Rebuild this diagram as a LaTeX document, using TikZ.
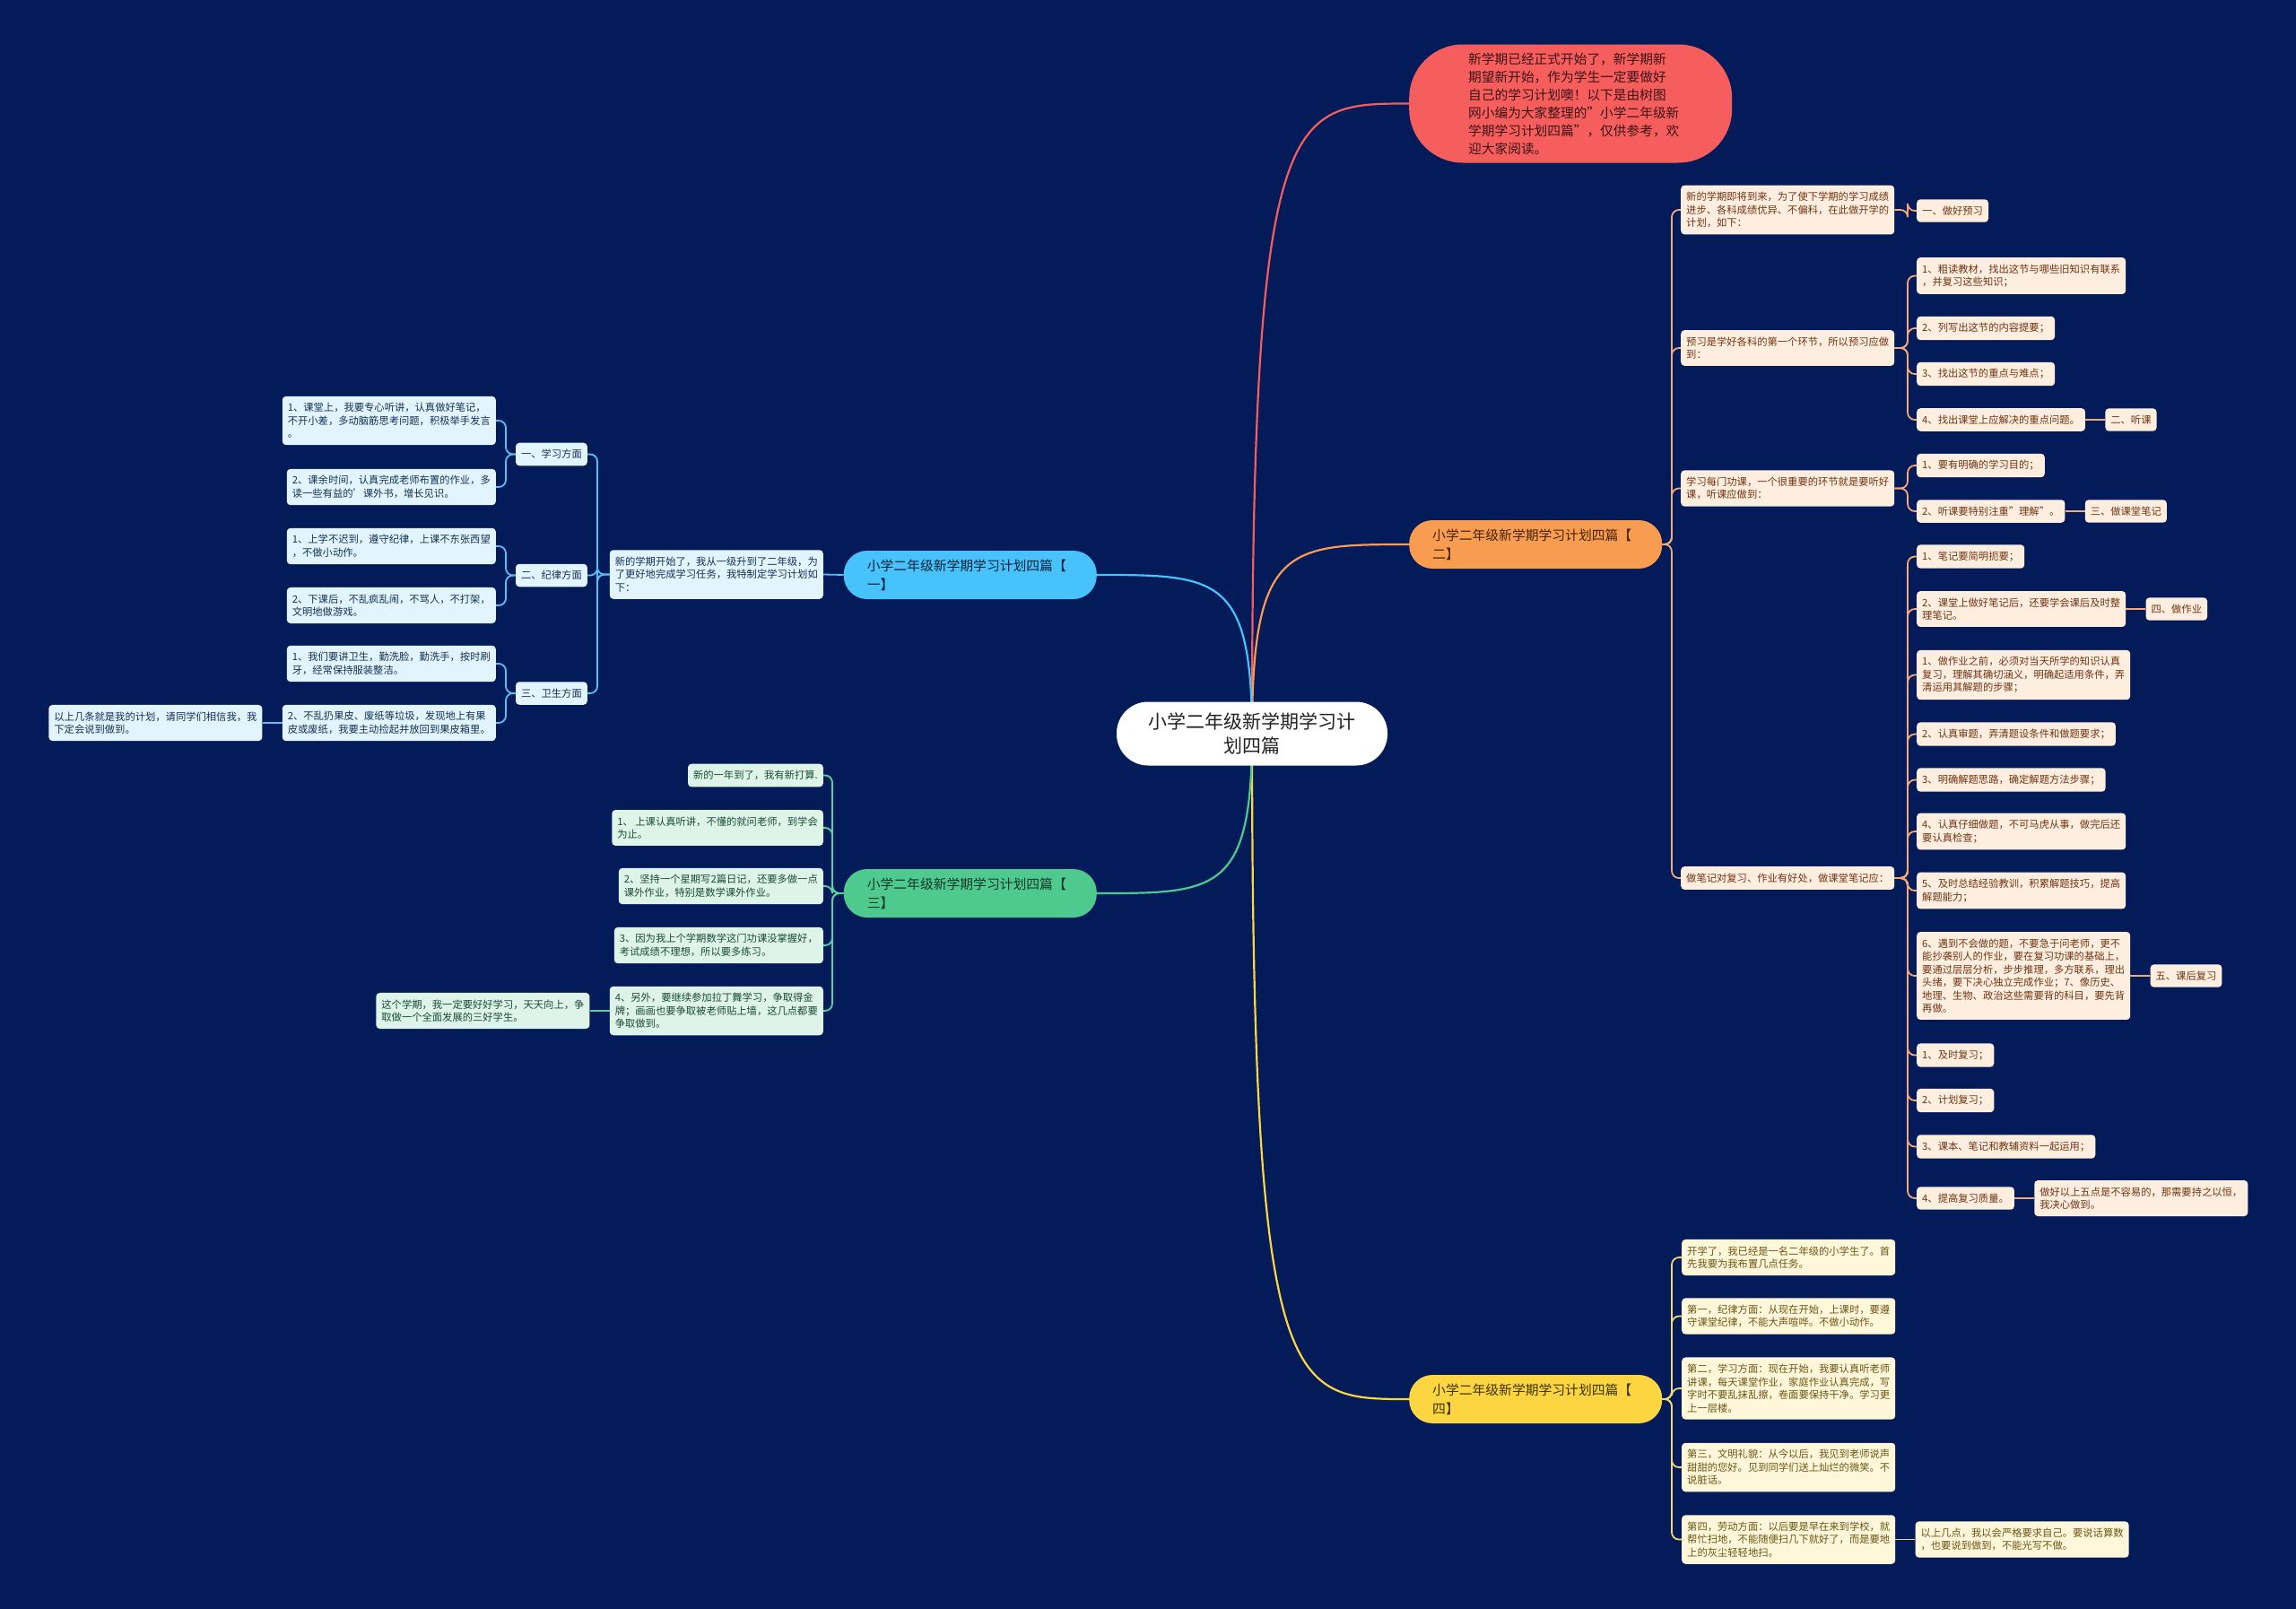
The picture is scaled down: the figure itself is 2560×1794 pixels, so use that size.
\documentclass[tikz,border=0pt]{standalone}
\usepackage{fontspec}
\setmainfont{Noto Sans CJK SC}
\usetikzlibrary{calc}
\pgfdeclarelayer{bg}
\pgfsetlayers{bg,main}
\definecolor{bgc}{RGB}{3,27,89}
\definecolor{redc}{RGB}{246,94,94}
\definecolor{redt}{RGB}{60,20,20}
\definecolor{orc}{RGB}{248,156,82}
\definecolor{blc}{RGB}{71,194,250}
\definecolor{grc}{RGB}{78,202,142}
\definecolor{ylc}{RGB}{252,214,64}
\definecolor{oleafc}{RGB}{254,238,224}
\definecolor{otext}{RGB}{110,52,18}
\definecolor{oline}{RGB}{243,170,120}
\definecolor{bleafc}{RGB}{226,244,254}
\definecolor{btext}{RGB}{20,50,80}
\definecolor{bline}{RGB}{90,190,245}
\definecolor{gleafc}{RGB}{222,244,233}
\definecolor{gtext}{RGB}{25,75,55}
\definecolor{gline}{RGB}{90,210,160}
\definecolor{yleafc}{RGB}{255,247,218}
\definecolor{ytext}{RGB}{105,85,20}
\definecolor{yline}{RGB}{242,214,110}
\definecolor{roott}{RGB}{34,34,34}
\begin{document}
\begin{tikzpicture}[x=1pt,y=-1pt,
 leaf/.style={rounded corners=4pt, inner xsep=6pt, inner ysep=7.5pt, align=left, font=\fontsize{11.3pt}{14.5pt}\selectfont},
 oleaf/.style={leaf, fill=oleafc, text=otext},
 bleaf/.style={leaf, fill=bleafc, text=btext},
 gleaf/.style={leaf, fill=gleafc, text=gtext},
 yleaf/.style={leaf, fill=yleafc, text=ytext},
 pill/.style={rounded corners=26pt, minimum height=54pt, text width=230pt, inner xsep=26pt, inner ysep=0pt, align=left, font=\fontsize{14.8pt}{21pt}\selectfont},
 conn/.style={line width=1.8pt, rounded corners=8pt},
 rootconn/.style={line width=2.2pt},
]
\begin{pgfonlayer}{bg}
\fill[bgc] (0,0) rectangle (2560,1794);
\end{pgfonlayer}
\useasboundingbox (0,0) rectangle (2560,1794);

% root
\node[fill=white, text=roott, rounded corners=35pt, minimum width=302pt, minimum height=71pt, align=center, font=\fontsize{21pt}{27pt}\selectfont] (root) at (1396,818) {小学二年级新学期学习计\\划四篇};

% red intro
\node[fill=redc, text=redt, rounded corners=60pt, minimum height=132pt, text width=228pt, inner xsep=66pt, align=left, font=\fontsize{14.7pt}{20pt}\selectfont, anchor=west] (red) at (1571,115.5) {新学期已经正式开始了，新学期新\\期望新开始，作为学生一定要做好\\自己的学习计划噢！以下是由树图\\网小编为大家整理的"小学二年级新\\学期学习计划四篇"，仅供参考，欢\\迎大家阅读。};

% main branches
\node[pill, fill=orc, text={rgb,255:red,70;green,35;blue,10}, anchor=west] (O2) at (1571,607) {小学二年级新学期学习计划四篇【\\二】};
\node[pill, fill=ylc, text={rgb,255:red,60;green,50;blue,10}, anchor=west] (Y4) at (1571,1560) {小学二年级新学期学习计划四篇【\\四】};
\node[pill, fill=blc, text={rgb,255:red,15;green,35;blue,60}, anchor=east] (B1) at (1223,641) {小学二年级新学期学习计划四篇【\\一】};
\node[pill, fill=grc, text={rgb,255:red,20;green,55;blue,40}, anchor=east] (G3) at (1223,996) {小学二年级新学期学习计划四篇【\\三】};

% ---------- branch 二 ----------
\node[oleaf, anchor=west] (Oa) at (1874,234) {新的学期即将到来，为了使下学期的学习成绩\\进步、各科成绩优异、不偏科，在此做开学的\\计划，如下：};
\node[oleaf, anchor=west] (Ob) at (1874,388) {预习是学好各科的第一个环节，所以预习应做\\到：};
\node[oleaf, anchor=west] (Oc) at (1874,544.5) {学习每门功课，一个很重要的环节就是要听好\\课，听课应做到：};
\node[oleaf, anchor=west] (Od) at (1874,979) {做笔记对复习、作业有好处，做课堂笔记应：};

\node[oleaf, anchor=west] (Oa1) at (2137,235) {一、做好预习};
\node[oleaf, anchor=west] (Ob1) at (2137,307.5) {1、粗读教材，找出这节与哪些旧知识有联系\\，并复习这些知识；};
\node[oleaf, anchor=west] (Ob2) at (2137,366) {2、列写出这节的内容提要；};
\node[oleaf, anchor=west] (Ob3) at (2137,417) {3、找出这节的重点与难点；};
\node[oleaf, anchor=west] (Ob4) at (2137,468) {4、找出课堂上应解决的重点问题。};
\node[oleaf, anchor=west] (Ob4a) at ([xshift=22pt]Ob4.east) {二、听课};
\node[oleaf, anchor=west] (Oc1) at (2137,519) {1、要有明确的学习目的；};
\node[oleaf, anchor=west] (Oc2) at (2137,570) {2、听课要特别注重"理解"。};
\node[oleaf, anchor=west] (Oc2a) at ([xshift=22pt]Oc2.east) {三、做课堂笔记};
\node[oleaf, anchor=west] (Od1) at (2137,620.5) {1、笔记要简明扼要；};
\node[oleaf, anchor=west] (Od2) at (2137,679) {2、课堂上做好笔记后，还要学会课后及时整\\理笔记。};
\node[oleaf, anchor=west] (Od2a) at ([xshift=22pt]Od2.east) {四、做作业};
\node[oleaf, anchor=west] (Od3) at (2137,752.5) {1、做作业之前，必须对当天所学的知识认真\\复习，理解其确切涵义，明确起适用条件，弄\\清运用其解题的步骤；};
\node[oleaf, anchor=west] (Od4) at (2137,818.5) {2、认真审题，弄清题设条件和做题要求；};
\node[oleaf, anchor=west] (Od5) at (2137,869.5) {3、明确解题思路，确定解题方法步骤；};
\node[oleaf, anchor=west] (Od6) at (2137,927) {4、认真仔细做题，不可马虎从事，做完后还\\要认真检查；};
\node[oleaf, anchor=west] (Od7) at (2137,993) {5、及时总结经验教训，积累解题技巧，提高\\解题能力；};
\node[oleaf, anchor=west] (Od8) at (2137,1088) {6、遇到不会做的题，不要急于问老师，更不\\能抄袭别人的作业，要在复习功课的基础上，\\要通过层层分析，步步推理，多方联系，理出\\头绪，要下决心独立完成作业；7、像历史、\\地理、生物、政治这些需要背的科目，要先背\\再做。};
\node[oleaf, anchor=west] (Od8a) at ([xshift=22pt]Od8.east) {五、课后复习};
\node[oleaf, anchor=west] (Od9) at (2137,1176.5) {1、及时复习；};
\node[oleaf, anchor=west] (Od10) at (2137,1227) {2、计划复习；};
\node[oleaf, anchor=west] (Od11) at (2137,1278.5) {3、课本、笔记和教辅资料一起运用；};
\node[oleaf, anchor=west] (Od12) at (2137,1336) {4、提高复习质量。};
\node[oleaf, anchor=west] (Od12a) at ([xshift=22pt]Od12.east) {做好以上五点是不容易的，那需要持之以恒，\\我决心做到。};

% ---------- branch 四 ----------
\node[yleaf, anchor=west] (Ya) at (1875,1402) {开学了，我已经是一名二年级的小学生了。首\\先我要为我布置几点任务。};
\node[yleaf, anchor=west] (Yb) at (1875,1467.5) {第一，纪律方面：从现在开始，上课时，要遵\\守课堂纪律，不能大声喧哗。不做小动作。};
\node[yleaf, anchor=west] (Yc) at (1875,1548) {第二，学习方面：现在开始，我要认真听老师\\讲课，每天课堂作业，家庭作业认真完成，写\\字时不要乱抹乱擦，卷面要保持干净。学习更\\上一层楼。};
\node[yleaf, anchor=west] (Yd) at (1875,1636) {第三，文明礼貌：从今以后，我见到老师说声\\甜甜的您好。见到同学们送上灿烂的微笑。不\\说脏话。};
\node[yleaf, anchor=west] (Ye) at (1875,1716.5) {第四，劳动方面：以后要是早在来到学校，就\\帮忙扫地，不能随便扫几下就好了，而是要地\\上的灰尘轻轻地扫。};
\node[yleaf, anchor=west] (Yf) at ([xshift=22pt]Ye.east) {以上几点，我以会严格要求自己。要说话算数\\，也要说到做到，不能光写不做。};

% ---------- branch 一 ----------
\node[bleaf, anchor=east] (Bd) at (918,640.5) {新的学期开始了，我从一级升到了二年级，为\\了更好地完成学习任务，我特制定学习计划如\\下：};
\node[bleaf, anchor=east] (S1) at (655,506.5) {一、学习方面};
\node[bleaf, anchor=east] (S2) at (655,641.5) {二、纪律方面};
\node[bleaf, anchor=east] (S3) at (655,773) {三、卫生方面};
\node[bleaf, anchor=east] (L1) at (553,469) {1、课堂上，我要专心听讲，认真做好笔记，\\不开小差，多动脑筋思考问题，积极举手发言\\。};
\node[bleaf, anchor=east] (L2) at (553,543) {2、课余时间，认真完成老师布置的作业，多\\读一些有益的'课外书，增长见识。};
\node[bleaf, anchor=east] (L3) at (553,609) {1、上学不迟到，遵守纪律，上课不东张西望\\，不做小动作。};
\node[bleaf, anchor=east] (L4) at (553,675) {2、下课后，不乱疯乱闹，不骂人，不打架，\\文明地做游戏。};
\node[bleaf, anchor=east] (L5) at (553,740) {1、我们要讲卫生，勤洗脸，勤洗手，按时刷\\牙，经常保持服装整洁。};
\node[bleaf, anchor=east] (L6) at (553,806) {2、不乱扔果皮、废纸等垃圾，发现地上有果\\皮或废纸，我要主动捡起并放回到果皮箱里。};
\node[bleaf, anchor=east] (L7) at ([xshift=-22pt]L6.west) {以上几条就是我的计划，请同学们相信我，我\\下定会说到做到。};

% ---------- branch 三 ----------
\node[gleaf, anchor=east] (Ga) at (918,864.5) {新的一年到了，我有新打算.};
\node[gleaf, anchor=east] (Gb) at (918,923) {1、 上课认真听讲，不懂的就问老师，到学会\\为止。};
\node[gleaf, anchor=east] (Gc) at (918,988) {2、坚持一个星期写2篇日记，还要多做一点\\课外作业，特别是数学课外作业。};
\node[gleaf, anchor=east] (Gd) at (918,1054) {3、因为我上个学期数学这门功课没掌握好，\\考试成绩不理想，所以要多练习。};
\node[gleaf, anchor=east] (Ge) at (918,1127) {4、另外，要继续参加拉丁舞学习，争取得金\\牌；画画也要争取被老师贴上墙，这几点都要\\争取做到。};
\node[gleaf, anchor=east] (Gf) at ([xshift=-22pt]Ge.west) {这个学期，我一定要好好学习，天天向上，争\\取做一个全面发展的三好学生。};

% ---------- connectors ----------
\begin{pgfonlayer}{bg}
\draw[rootconn, redc] (root.center) .. controls (root.center |- red.west) and ($(root.center |- red.west)+(40,0)$) .. (red.west);
\draw[rootconn, orc] (root.center) .. controls (root.center |- O2.west) and ($(root.center |- O2.west)+(40,0)$) .. (O2.west);
\draw[rootconn, ylc] (root.center) .. controls (root.center |- Y4.west) and ($(root.center |- Y4.west)+(40,0)$) .. (Y4.west);
\draw[rootconn, blc] (root.center) .. controls (root.center |- B1.east) and ($(root.center |- B1.east)+(-40,0)$) .. (B1.east);
\draw[rootconn, grc] (root.center) .. controls (root.center |- G3.east) and ($(root.center |- G3.east)+(-40,0)$) .. (G3.east);

% branch 二
\foreach \c in {Oa,Ob,Oc,Od} {\draw[conn, oline] (O2.east) -| ([xshift=-10pt]\c.west) -- (\c.west);}
\draw[conn, oline] (Oa.east) -| ([xshift=-10pt]Oa1.west) -- (Oa1.west);
\foreach \c in {Ob1,Ob2,Ob3,Ob4} {\draw[conn, oline] (Ob.east) -| ([xshift=-10pt]\c.west) -- (\c.west);}
\foreach \c in {Oc1,Oc2} {\draw[conn, oline] (Oc.east) -| ([xshift=-10pt]\c.west) -- (\c.west);}
\foreach \c in {Od1,Od2,Od3,Od4,Od5,Od6,Od7,Od8,Od9,Od10,Od11,Od12} {\draw[conn, oline] (Od.east) -| ([xshift=-10pt]\c.west) -- (\c.west);}
\draw[conn, oline] (Ob4.east) -- (Ob4a.west);
\draw[conn, oline] (Oc2.east) -- (Oc2a.west);
\draw[conn, oline] (Od2.east) -- (Od2a.west);
\draw[conn, oline] (Od8.east) -- (Od8a.west);
\draw[conn, oline] (Od12.east) -- (Od12a.west);

% branch 四
\foreach \c in {Ya,Yb,Yc,Yd,Ye} {\draw[conn, yline] (Y4.east) -| ([xshift=-11pt]\c.west) -- (\c.west);}
\draw[conn, yline] (Ye.east) -- (Yf.west);

% branch 一
\draw[conn, bline] (B1.west) -- (Bd.east);
\foreach \c in {S1,S2,S3} {\draw[conn, bline] (Bd.west) -| ([xshift=11pt]\c.east) -- (\c.east);}
\foreach \c in {L1,L2} {\draw[conn, bline] (S1.west) -| ([xshift=11pt]\c.east) -- (\c.east);}
\foreach \c in {L3,L4} {\draw[conn, bline] (S2.west) -| ([xshift=11pt]\c.east) -- (\c.east);}
\foreach \c in {L5,L6} {\draw[conn, bline] (S3.west) -| ([xshift=11pt]\c.east) -- (\c.east);}
\draw[conn, bline] (L6.west) -- (L7.east);

% branch 三
\foreach \c in {Ga,Gb,Gc,Gd,Ge} {\draw[conn, gline] (G3.west) -| ([xshift=10pt]\c.east) -- (\c.east);}
\draw[conn, gline] (Ge.west) -- (Gf.east);
\end{pgfonlayer}
\end{tikzpicture}
\end{document}
